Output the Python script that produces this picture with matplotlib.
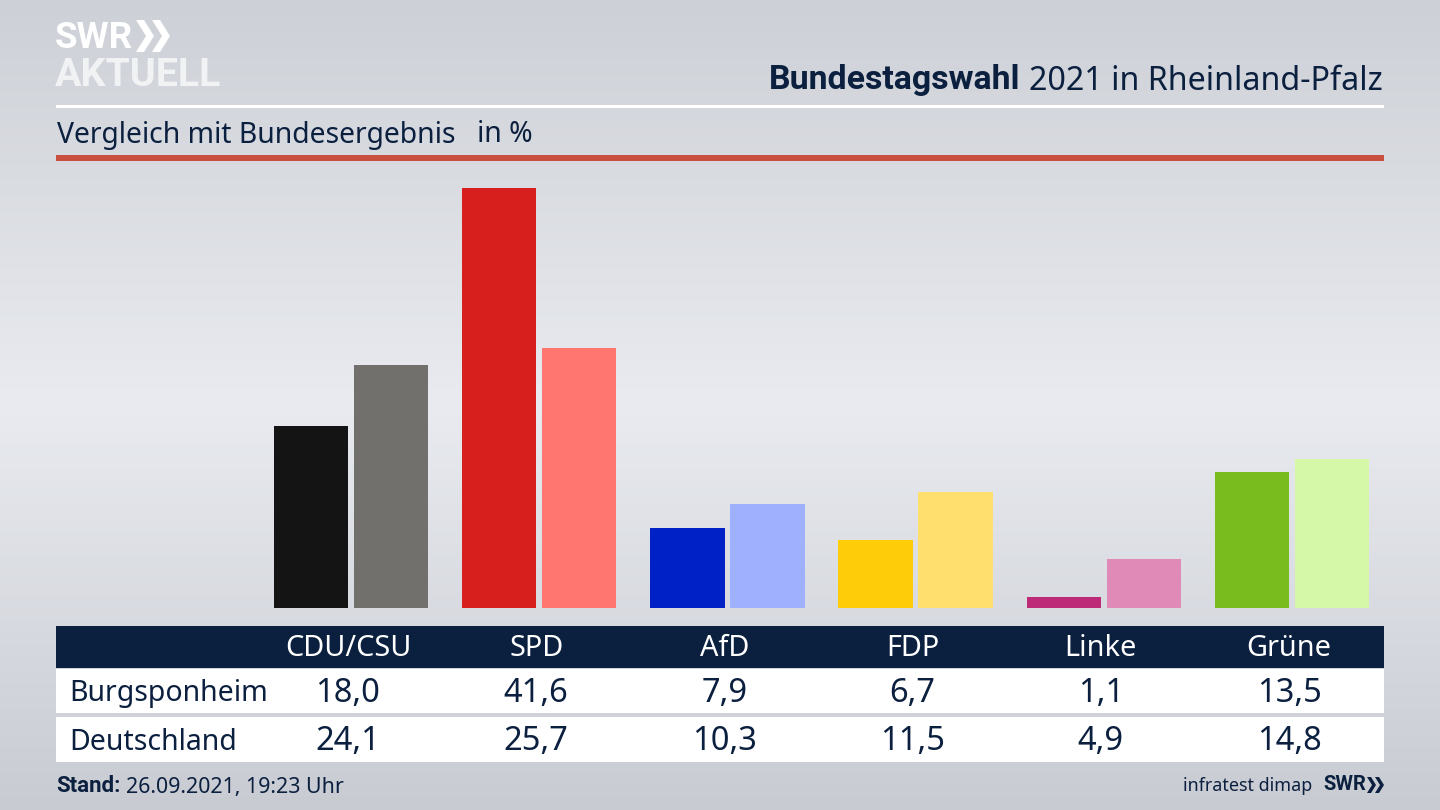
import numpy as np
import matplotlib
matplotlib.use("Agg")
import matplotlib.pyplot as plt
from matplotlib.patches import Rectangle, Polygon
from matplotlib.colors import LinearSegmentedColormap

parties = ["CDU/CSU", "SPD", "AfD", "FDP", "Linke", "Grüne"]
burgsponheim = [18.0, 41.6, 7.9, 6.7, 1.1, 13.5]
deutschland = [24.1, 25.7, 10.3, 11.5, 4.9, 14.8]
colors_local = ["#141414", "#d71f1e", "#0021c6", "#ffcc0a", "#bd2a78", "#78bc1e"]
colors_national = ["#71706d", "#ff7570", "#9fb0ff", "#ffe06f", "#e08ab8", "#d4f7a8"]
row_names = ["Burgsponheim", "Deutschland"]

W, H = 1440, 810
NAVY = "#0b1f3f"
FONT = "Noto Sans"
plt.rcParams["font.family"] = [FONT, "DejaVu Sans"]

fig = plt.figure(figsize=(14.4, 8.1), dpi=100)

# background gradient
bg = fig.add_axes([0, 0, 1, 1], zorder=0)
cmap = LinearSegmentedColormap.from_list("bg", [(0, "#cdd0d6"), (0.5, "#e9ebf0"), (1, "#c8cbd2")])
bg.imshow(np.linspace(0, 1, 256).reshape(-1, 1), aspect="auto", cmap=cmap, extent=(0, W, H, 0))
bg.set_xlim(0, W)
bg.set_ylim(H, 0)
bg.axis("off")

# bars
PX_GROUP = 188.2
PX_UNIT = 10.1
X0 = 351
left, right, top, base = 56, 1384, 160, 608
ax = fig.add_axes([left / W, 1 - base / H, (right - left) / W, (base - top) / H], zorder=1)
ax.patch.set_alpha(0)
ax.set_xlim((left - X0) / PX_GROUP, (right - X0) / PX_GROUP)
ax.set_ylim(0, (base - top) / PX_UNIT)
ax.axis("off")
x = np.arange(len(parties))
bw = 74.5 / PX_GROUP
off = 40 / PX_GROUP
ax.bar(x - off, burgsponheim, bw, color=colors_local)
ax.bar(x + off, deutschland, bw, color=colors_national)

# overlay in pixel coordinates
o = fig.add_axes([0, 0, 1, 1], zorder=2)
o.patch.set_alpha(0)
o.set_xlim(0, W)
o.set_ylim(H, 0)
o.axis("off")

o.add_patch(Rectangle((56, 104.5), 1328, 3, color="white", lw=0))
o.add_patch(Rectangle((56, 155), 1328, 5.5, color="#c9503f", lw=0))
o.add_patch(Rectangle((56, 626), 1328, 42, color=NAVY, lw=0))
o.add_patch(Rectangle((56, 669), 1328, 44, color="white", lw=0))
o.add_patch(Rectangle((56, 717), 1328, 45, color="white", lw=0))

# header
o.text(769, 80, "Bundestagswahl", fontsize=24.4, fontweight="bold", color=NAVY, ha="left", va="center",
       family="Roboto")
o.text(1383, 81, "2021 in Rheinland-Pfalz", fontsize=23.2, color=NAVY, ha="right", va="center")
o.text(57, 135, "Vergleich mit Bundesergebnis", fontsize=20.4, color=NAVY, ha="left", va="center")
o.text(477, 135, "in %", fontsize=20.4, color=NAVY, ha="left", va="center")

# logo
o.text(55, 38, "SWR", fontsize=26.5, fontweight="bold", color="white", ha="left", va="center", family="Roboto")
o.text(55, 76, "AKTUELL", fontsize=28.4, fontweight="bold", color="#f1f2f4", ha="left", va="center", family="Roboto")
for dx in (0, 16):
    o.add_patch(Polygon([(136 + dx, 20), (144 + dx, 20), (154 + dx, 36), (144 + dx, 52),
                         (136 + dx, 52), (146 + dx, 36)], closed=True, color="white", lw=0))

# table
centers = 348 + PX_GROUP * x
for cx, p, a, b in zip(centers, parties, burgsponheim, deutschland):
    o.text(cx, 649, p, fontsize=20.8, color="white", ha="center", va="center")
    o.text(cx, 694, f"{a:.1f}".replace(".", ","), fontsize=23.5, color=NAVY, ha="center", va="center")
    o.text(cx, 742, f"{b:.1f}".replace(".", ","), fontsize=23.5, color=NAVY, ha="center", va="center")
o.text(69, 693, row_names[0], fontsize=20.5, color=NAVY, ha="left", va="center")
o.text(69, 742, row_names[1], fontsize=20.5, color=NAVY, ha="left", va="center")

# footer
o.text(56, 786, "Stand:", fontsize=16, fontweight="bold", color=NAVY, ha="left", va="center", family="Roboto")
o.text(126, 787, "26.09.2021, 19:23 Uhr", fontsize=15.4, color=NAVY, ha="left", va="center")
o.text(1312, 786, "infratest dimap", fontsize=12.9, color=NAVY, ha="right", va="center")
o.text(1323, 785, "SWR", fontsize=14.5, fontweight="bold", color=NAVY, ha="left", va="center", family="Roboto")
for dx in (0, 8):
    o.add_patch(Polygon([(1367 + dx, 777), (1371 + dx, 777), (1376 + dx, 785), (1371 + dx, 793),
                         (1367 + dx, 793), (1372 + dx, 785)], closed=True, color=NAVY, lw=0))

fig.savefig("out.png", dpi=100)
